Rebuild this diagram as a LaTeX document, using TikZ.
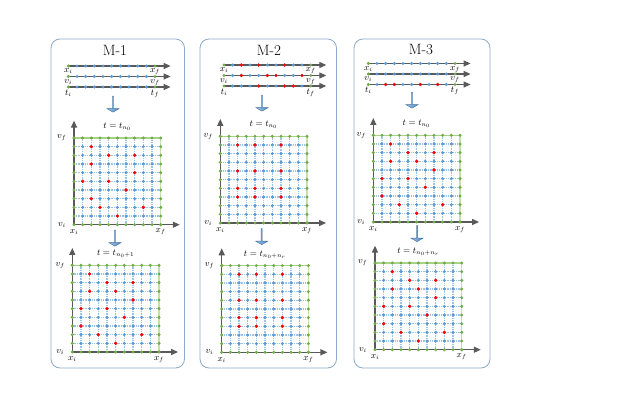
\documentclass[tikz,border=0pt]{standalone}
\usepackage{amsmath,amssymb}
\usepackage{tikz}
\usetikzlibrary{arrows.meta,shapes.arrows}

\definecolor{dotgreen}{HTML}{70AD47}
\definecolor{dotblue}{HTML}{5B9BD5}
\definecolor{dotred}{HTML}{FF0000}
\definecolor{linegray}{HTML}{595959}
\definecolor{gridblue}{HTML}{9DC3E6}
\definecolor{edgegreen}{HTML}{A9D18E}
\definecolor{framegray}{HTML}{8EA9C8}
\definecolor{arrowblue}{HTML}{4F8CC9}
\definecolor{arrowedge}{HTML}{41719C}

\tikzset{
  panel/.style={draw=framegray,line width=0.8bp,rounded corners=9bp},
  title/.style={inner sep=0pt,font=\fontsize{15}{18}\selectfont},
  lbl/.style={inner sep=0.5bp},
  axis/.style={draw=linegray,line width=1.2bp,-{Triangle[length=7bp,width=6bp]}},
  gridaxis/.style={draw=linegray,line width=1.3bp,{Triangle[length=7bp,width=6bp]}-{Triangle[length=7bp,width=6bp]}},
  gridline/.style={draw=gridblue,line width=1.2bp,densely dotted},
  gdot/.style={fill=dotgreen},
  bdot/.style={fill=dotblue},
  rdot/.style={fill=dotred},
  downarrow/.style={single arrow,shape border rotate=270,draw=arrowedge,
    left color=arrowblue!55,right color=arrowblue,inner sep=0pt,
    minimum width=12bp,minimum height=16bp,single arrow head extend=2bp,
    single arrow tip angle=120}
}

\newcommand{\rangeline}[5]{%
  \begin{scope}[shift={(#1,#2)},x=8.67bp]
    \draw[axis] (0,0) -- (11.8,0);
    \foreach \k in {1,...,9} \fill[bdot] (\k,0) circle (1.7bp);
    \foreach \k in {#5} {\ifx\k\empty\else\fill[rdot] (\k,0) circle (1.7bp);\fi}
    \fill[gdot] (0,0) circle (1.7bp) (10,0) circle (1.7bp);
    \node[lbl,below=2bp] (#3i) at (0,0) {$#4_i$};
    \node[lbl,below=2bp] (#3f) at (10,0) {$#4_f$};
  \end{scope}}

\newcommand{\phasegrid}[5]{%
  \begin{scope}[shift={(#1,#2)},x=8.67bp,y=8.67bp]
    \foreach \k in {1,...,9} \draw[gridline] (\k,0) -- (\k,10) (0,\k) -- (10,\k);
    \draw[edgegreen,line width=1.1bp] (0,10) -- (10,10);
    \draw[edgegreen!70,line width=1.1bp] (10,0) -- (10,10);
    \draw[gridaxis] (0,12) -- (0,0) -- (12.2,0);
    \foreach \i in {1,...,9} \foreach \j in {1,...,9} \fill[bdot] (\i,\j) circle (1.7bp);
    \foreach \k in {0,...,10} \fill[gdot] (\k,10) circle (1.7bp) (10,\k) circle (1.7bp) (\k,0) circle (1.7bp) (0,\k) circle (1.7bp);
    \foreach \i/\j in {#5} \fill[rdot] (\i,10-\j) circle (1.8bp);
    \node[lbl] (#3vf) at (-1.4,10) {$v_f$};
    \node[lbl] (#3vi) at (-1.4,0) {$v_i$};
    \node[lbl] (#3xi) at (0,-0.85) {$x_i$};
    \node[lbl] (#3xf) at (10,-0.85) {$x_f$};
    \node[lbl] (#3t) at (5,11.3) {$t = t_{#4}$};
  \end{scope}}

\begin{document}
\begin{tikzpicture}[x=1bp,y=1bp,font=\small]
\useasboundingbox (0,0) rectangle (628,412);

\draw[panel] (51,44) rectangle (184.5,373);
\draw[panel] (200,44) rectangle (336.5,373);
\draw[panel] (354,44) rectangle (490,373);
\node[title] (m1) at (115,362) {M-1};
\node[title] (m2) at (269,362) {M-2};
\node[title] (m3) at (421,362) {M-3};

\rangeline{68.3}{346}{pax}{x}{}
\rangeline{68.3}{335.5}{pav}{v}{}
\rangeline{68.3}{325}{pat}{t}{}
\node[downarrow] (pa1) at (113,308) {};
\phasegrid{74}{187.3}{pag}{n_0}{2/1,4/2,7/2,2/3,7/4,1/5,4/5,6/6,2/7,3/8,8/8,5/9}
\node[downarrow] (pa2) at (115,174) {};
\phasegrid{72.3}{60}{pah}{n_0+1}{2/1,4/2,7/2,2/3,5/3,7/4,1/5,4/5,6/6,1/7,3/8,8/8,5/9}

\rangeline{224}{347}{pbx}{x}{2,4,7}
\rangeline{224}{336.5}{pbv}{v}{2,5,6,9}
\rangeline{224}{326}{pbt}{t}{4,7,8}
\node[downarrow] (pb1) at (262,309) {};
\phasegrid{220.3}{189}{pbg}{n_0}{2/1,4/1,7/1,2/4,4/4,7/4,2/6,4/6,7/6,2/7,4/7,7/7}
\node[downarrow] (pb2) at (261.7,175.5) {};
\phasegrid{221.7}{59.7}{pbh}{n_0+n_r}{2/1,4/1,7/1,2/4,4/4,7/4,2/6,4/6,7/6,2/7,4/7,7/7}

\rangeline{368.3}{348.5}{pcx}{x}{}
\rangeline{368.3}{338}{pcv}{v}{}
\rangeline{368.3}{327.5}{pct}{t}{2,3,6,8}
\node[downarrow] (pc1) at (412,312) {};
\phasegrid{373.3}{190}{pcg}{n_0}{2/1,4/2,7/2,2/3,5/3,7/4,1/5,4/5,6/6,1/7,3/8,8/8,5/9}
\node[downarrow] (pc2) at (417,178.5) {};
\phasegrid{375}{62.3}{pch}{n_0+n_r}{2/1,4/2,7/2,2/3,5/3,7/4,1/5,4/5,6/6,1/7,3/8,8/8,5/9}
\end{tikzpicture}
\end{document}
